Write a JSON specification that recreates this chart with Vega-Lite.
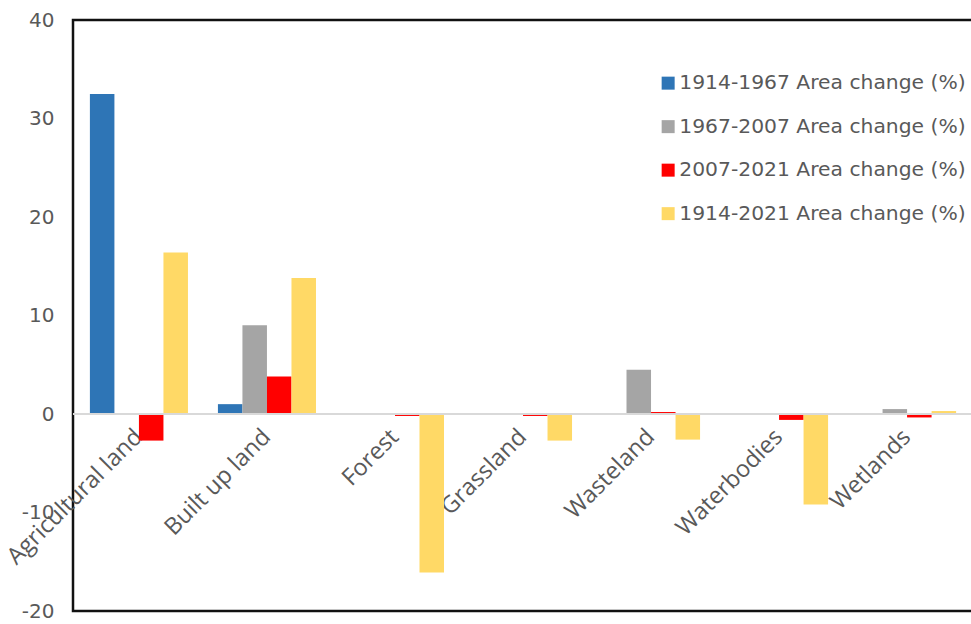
{
  "$schema": "https://vega.github.io/schema/vega-lite/v6.json",
  "width": 900,
  "height": 591,
  "autosize": {"type": "none"},
  "padding": {"left": 73, "top": 20, "right": 0, "bottom": 13},
  "background": "white",
  "config": {
    "font": "DejaVu Sans",
    "view": {"stroke": "#111111", "strokeWidth": 2.5}
  },
  "data": {
    "values": [
      {"category": "Agricultural land", "period": "1914-1967 Area change (%)", "value": 32.5},
      {"category": "Agricultural land", "period": "1967-2007 Area change (%)", "value": 0},
      {"category": "Agricultural land", "period": "2007-2021 Area change (%)", "value": -2.7},
      {"category": "Agricultural land", "period": "1914-2021 Area change (%)", "value": 16.4},
      {"category": "Built up land", "period": "1914-1967 Area change (%)", "value": 1.0},
      {"category": "Built up land", "period": "1967-2007 Area change (%)", "value": 9.0},
      {"category": "Built up land", "period": "2007-2021 Area change (%)", "value": 3.8},
      {"category": "Built up land", "period": "1914-2021 Area change (%)", "value": 13.8},
      {"category": "Forest", "period": "1914-1967 Area change (%)", "value": 0},
      {"category": "Forest", "period": "1967-2007 Area change (%)", "value": 0},
      {"category": "Forest", "period": "2007-2021 Area change (%)", "value": -0.2},
      {"category": "Forest", "period": "1914-2021 Area change (%)", "value": -16.1},
      {"category": "Grassland", "period": "1914-1967 Area change (%)", "value": 0},
      {"category": "Grassland", "period": "1967-2007 Area change (%)", "value": 0},
      {"category": "Grassland", "period": "2007-2021 Area change (%)", "value": -0.2},
      {"category": "Grassland", "period": "1914-2021 Area change (%)", "value": -2.7},
      {"category": "Wasteland", "period": "1914-1967 Area change (%)", "value": 0},
      {"category": "Wasteland", "period": "1967-2007 Area change (%)", "value": 4.5},
      {"category": "Wasteland", "period": "2007-2021 Area change (%)", "value": 0.2},
      {"category": "Wasteland", "period": "1914-2021 Area change (%)", "value": -2.6},
      {"category": "Waterbodies", "period": "1914-1967 Area change (%)", "value": 0},
      {"category": "Waterbodies", "period": "1967-2007 Area change (%)", "value": 0},
      {"category": "Waterbodies", "period": "2007-2021 Area change (%)", "value": -0.6},
      {"category": "Waterbodies", "period": "1914-2021 Area change (%)", "value": -9.2},
      {"category": "Wetlands", "period": "1914-1967 Area change (%)", "value": 0},
      {"category": "Wetlands", "period": "1967-2007 Area change (%)", "value": 0.5},
      {"category": "Wetlands", "period": "2007-2021 Area change (%)", "value": -0.35},
      {"category": "Wetlands", "period": "1914-2021 Area change (%)", "value": 0.3}
    ]
  },
  "layer": [
    {
      "mark": {"type": "bar"},
      "encoding": {
        "x": {
          "field": "category",
          "type": "nominal",
          "sort": ["Agricultural land", "Built up land", "Forest", "Grassland", "Wasteland", "Waterbodies", "Wetlands"],
          "scale": {"paddingInner": 0.234, "paddingOuter": 0.132},
          "axis": {
            "title": null,
            "orient": "bottom",
            "offset": -197,
            "domain": false,
            "ticks": false,
            "tickSize": 0,
            "labelAngle": -45,
            "labelAlign": "right",
            "labelBaseline": "middle",
            "labelPadding": 19,
            "labelDx": 9,
            "labelFont": "Open Sans",
            "labelFontSize": 23.5,
            "labelColor": "#595959",
            "labelOverlap": false,
            "labelLimit": 400
          }
        },
        "xOffset": {
          "field": "period",
          "type": "nominal",
          "sort": ["1914-1967 Area change (%)", "1967-2007 Area change (%)", "2007-2021 Area change (%)", "1914-2021 Area change (%)"],
          "scale": {"paddingInner": 0, "paddingOuter": 0}
        },
        "y": {
          "field": "value",
          "type": "quantitative",
          "scale": {"domain": [-20, 40], "nice": false},
          "axis": {
            "title": null,
            "values": [-20, -10, 0, 10, 20, 30, 40],
            "labelExpr": "'' + datum.value",
            "grid": false,
            "domain": false,
            "ticks": false,
            "labelPadding": 19,
            "labelFontSize": 20,
            "labelColor": "#595959"
          }
        },
        "color": {
          "field": "period",
          "type": "nominal",
          "sort": ["1914-1967 Area change (%)", "1967-2007 Area change (%)", "2007-2021 Area change (%)", "1914-2021 Area change (%)"],
          "scale": {
            "domain": ["1914-1967 Area change (%)", "1967-2007 Area change (%)", "2007-2021 Area change (%)", "1914-2021 Area change (%)"],
            "range": ["#2E75B6", "#A5A5A5", "#FF0000", "#FFD966"]
          },
          "legend": {
            "title": null,
            "orient": "none",
            "legendX": 585,
            "legendY": 53,
            "symbolType": "square",
            "symbolSize": 169,
            "symbolStrokeWidth": 0,
            "labelFontSize": 20.3,
            "labelColor": "#595959",
            "labelOffset": 1,
            "rowPadding": 22.5,
            "labelLimit": 400
          }
        }
      }
    },
    {
      "mark": {"type": "rule", "color": "#D9D9D9", "strokeWidth": 2},
      "encoding": {"y": {"datum": 0}}
    }
  ]
}
